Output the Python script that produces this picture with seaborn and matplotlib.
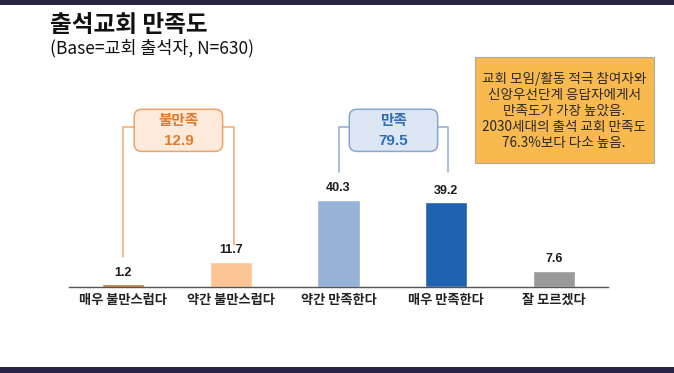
import matplotlib
matplotlib.use("Agg")
import matplotlib.pyplot as plt
from matplotlib.patches import FancyBboxPatch, Rectangle
import seaborn as sns
import pandas as pd

# data
categories = ["매우 불만스럽다", "약간 불만스럽다", "약간 만족한다", "매우 만족한다", "잘 모르겠다"]
values = [1.2, 11.7, 40.3, 39.2, 7.6]
bar_colors = ["#c0702e", "#fcc596", "#95b3d7", "#1f62b0", "#9a9a9a"]

dissat_label = "불만족"
dissat_total = 12.9
sat_label = "만족"
sat_total = 79.5

title = "출석교회 만족도"
subtitle = "(Base=교회 출석자, N=630)"
note_lines = ["교회 모임/활동 적극 참여자와", "신앙우선단계 응답자에게서", "만족도가 가장 높았음.",
              "2030세대의 출석 교회 만족도", "76.3%보다 다소 높음."]

sns.set_theme(style="white")
plt.rcParams["font.family"] = ["Noto Sans CJK KR", "DejaVu Sans"]

df = pd.DataFrame({"category": categories, "value": values})

fig = plt.figure(figsize=(6.74, 3.73), dpi=100)
ax = fig.add_axes([69 / 674, 86 / 373, 539 / 674, 187 / 373])

sns.barplot(data=df, x="category", y="value", hue="category", palette=bar_colors,
            width=0.39, legend=False, ax=ax, saturation=1)

ax.set_xlim(-0.5, 4.5)
ax.set_ylim(0, 86.6)
ax.set_xlabel("")
ax.set_ylabel("")
ax.set_yticks([])
for s in ["top", "right", "left"]:
    ax.spines[s].set_visible(False)
ax.spines["bottom"].set_color("#555555")
ax.spines["bottom"].set_linewidth(1)
ax.set_xticks(range(len(categories)))
ax.set_xticklabels(categories, fontsize=9.5, fontweight="bold", color="#222222")
ax.tick_params(axis="x", length=0, pad=4)
ax.set_xticks([i - 0.5 for i in range(len(categories) + 1)], minor=True)
ax.tick_params(axis="x", which="minor", length=4, width=1, color="#555555", direction="out")

# value labels
for i, v in enumerate(values):
    ax.text(i, v + 2.6, f"{v}", ha="center", va="bottom", fontsize=9, fontweight="bold",
            color="#1a1a1a", family="Liberation Sans")

# brackets
def bracket(x0, x1, bottoms, label, total, line_c, face_c, edge_c, text_c):
    yh = 74
    mid = (x0 + x1) / 2
    bw = 0.82
    ax.plot([x0, x0, mid - bw / 2], [bottoms[0], yh, yh], color=line_c, lw=1.1, solid_joinstyle="miter")
    ax.plot([x1, x1, mid + bw / 2], [bottoms[1], yh, yh], color=line_c, lw=1.1, solid_joinstyle="miter")
    box = FancyBboxPatch((mid - bw / 2, 62.8), bw, 19.5,
                         boxstyle="round,pad=0,rounding_size=0.07", mutation_aspect=50,
                         facecolor=face_c, edgecolor=edge_c, lw=1.1, zorder=3)
    ax.add_patch(box)
    ax.text(mid, 77.3, label, ha="center", va="center", fontsize=10.5, fontweight="bold",
            color=text_c, zorder=4)
    ax.text(mid, 67.8, f"{total}", ha="center", va="center", fontsize=11, fontweight="bold",
            color=text_c, family="Liberation Sans", zorder=4)

bracket(0, 1.03, [values[0] + 12.7, values[1] + 7.7], dissat_label, dissat_total,
        "#f0aa70", "#fdeadb", "#e9a469", "#e07a2c")
bracket(2.0, 3.02, [values[2] + 12.9, values[3] + 14], sat_label, sat_total,
        "#8eabd0", "#dde7f3", "#86a7cf", "#2f6db4")

# titles
fig.text(50 / 674, 1 - 25 / 373, title, fontsize=17, fontweight="bold", color="#111111", va="center")
fig.text(50 / 674, 1 - 48 / 373, subtitle, fontsize=12.5, color="#111111", va="center")

# note box
fig.patches.append(Rectangle((475 / 674, 1 - 163 / 373), 179 / 674, 106 / 373,
                             transform=fig.transFigure, facecolor="#f9b94f",
                             edgecolor="#a8a8a8", lw=0.8))
fig.text(564 / 674, 1 - 111 / 373, "\n".join(note_lines), ha="center", va="center",
         fontsize=9.8, color="#2a2a2a", linespacing=1.2)

# top and bottom bands
fig.patches.append(Rectangle((0, 1 - 5 / 373), 1, 5 / 373, transform=fig.transFigure,
                             facecolor="#2a2444", edgecolor="none"))
fig.patches.append(Rectangle((0, 0), 1, 6 / 373, transform=fig.transFigure,
                             facecolor="#2a2444", edgecolor="none"))

fig.savefig("out.png", dpi=100, facecolor="white")
plt.close(fig)
